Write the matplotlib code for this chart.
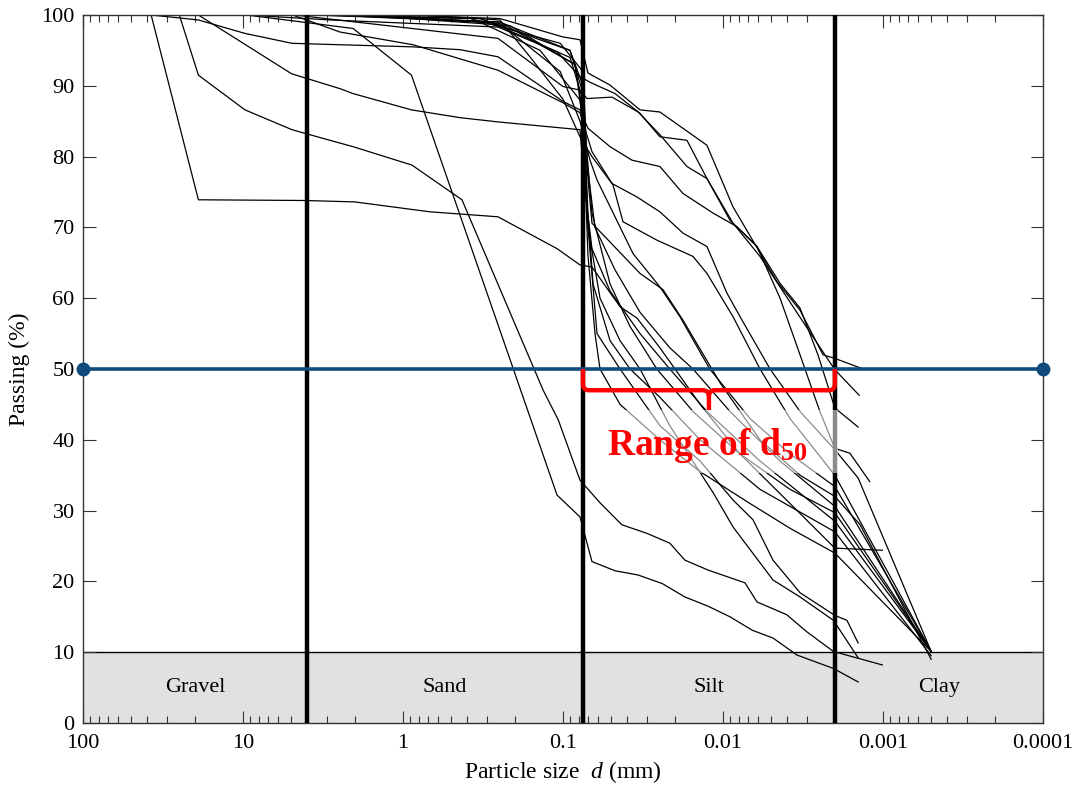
import numpy as np
import matplotlib
matplotlib.use("Agg")
import matplotlib.pyplot as plt
from matplotlib.path import Path
from matplotlib.patches import PathPatch
from matplotlib.ticker import LogLocator, NullFormatter

plt.rcParams["font.family"] = ["Liberation Serif", "DejaVu Serif"]
plt.rcParams["mathtext.fontset"] = "custom"
plt.rcParams["mathtext.rm"] = "Liberation Serif"
plt.rcParams["mathtext.it"] = "Liberation Serif:italic"
plt.rcParams["mathtext.bf"] = "Liberation Serif:bold"

# ---------------- grading curves: particle size (mm) and percent passing ----------------
d01 = [1.04, 0.248, 0.1, 0.0783, 0.0698, 0.0508, 0.0330, 0.0248, 0.0126, 0.00866, 0.00459, 0.00330, 0.00237, 0.0020, 0.00133]
p01 = [100, 99.5, 96.9, 96.5, 91.8, 90.1, 86.6, 86.3, 81.6, 72.9, 62.3, 58.3, 52.0, 51.5, 50.0]

d02 = [9.5, 2.86, 0.255, 0.109, 0.0783, 0.0678, 0.0473, 0.0330, 0.0248, 0.0168, 0.0126, 0.00866, 0.00587, 0.00365, 0.00237, 0.0020, 0.00141]
p02 = [100, 99.3, 98.3, 94.8, 91.3, 90.5, 88.9, 86.1, 82.8, 82.3, 76.9, 70.6, 65.9, 58.8, 52.4, 49.9, 46.3]

d03 = [4.75, 0.255, 0.1, 0.0783, 0.0708, 0.0494, 0.0339, 0.0248, 0.0168, 0.0126, 0.00904, 0.00613, 0.00440, 0.00330, 0.00255, 0.0020, 0.00143]
p03 = [100, 96.7, 89.9, 89.4, 88.2, 88.4, 86.3, 83.1, 78.6, 76.9, 71.0, 67.3, 62.1, 58.6, 52.0, 44.5, 41.8]

d04 = [37.5, 19, 9.72, 4.94, 2.48, 0.866, 0.440, 0.255, 0.1, 0.0783, 0.0698, 0.0508, 0.0371, 0.0248, 0.0178, 0.0115, 0.00818, 0.00613, 0.00440, 0.00330, 0.00248, 0.0020, 0.00161, 0.00121]
p04 = [100, 99.3, 97.4, 96.0, 95.8, 95.5, 95.1, 94.1, 87.8, 86.6, 84.0, 81.4, 79.5, 78.6, 74.8, 72.0, 70.1, 67.3, 60.0, 52.0, 44.0, 38.8, 38.1, 34.1]

d05 = [4.9, 2.48, 0.866, 0.255, 0.1, 0.0783, 0.0659, 0.0494, 0.0345, 0.0248, 0.0178, 0.0126, 0.00944, 0.00783, 0.00508, 0.00330, 0.0020, 0.00143, 0.0005]
p05 = [100, 97.6, 95.8, 92.2, 87.6, 86.2, 80.7, 76.2, 74.3, 72.2, 69.2, 67.3, 60.7, 57.4, 50.0, 44.0, 38.6, 34.6, 10.1]

d06 = [0.783, 0.248, 0.161, 0.1, 0.0783, 0.0659, 0.0487, 0.0422, 0.0259, 0.0154, 0.0126, 0.00866, 0.00587, 0.00381, 0.0020, 0.0005]
p06 = [100, 99.3, 94.1, 88.1, 82.8, 80.0, 76.0, 70.8, 68.2, 65.9, 63.5, 57.4, 50.0, 43.0, 35.0, 10.1]

d07 = [1.39, 0.248, 0.104, 0.0783, 0.0678, 0.0613, 0.0365, 0.0248, 0.0186, 0.0121, 0.00678, 0.00381, 0.0020, 0.0005]
p07 = [100, 98.8, 92.0, 85.0, 79.5, 76.7, 66.3, 61.6, 57.4, 50.0, 43.0, 38.0, 33.4, 10.1]

d08 = [1.86, 0.330, 0.139, 0.0783, 0.0718, 0.0659, 0.0330, 0.0237, 0.0178, 0.0104, 0.00587, 0.00330, 0.0020, 0.00139, 0.0005]
p08 = [100, 99.0, 95.0, 88.0, 80.0, 70.6, 63.5, 61.2, 56.9, 48.0, 40.0, 35.0, 32.0, 28.0, 9.0]

d09 = [37.5, 19, 4.10, 2.0, 0.678, 0.255, 0.109, 0.0783, 0.0659, 0.0440, 0.0345, 0.0248, 0.0139, 0.00783, 0.00381, 0.0020, 0.00101]
p09 = [100, 73.9, 73.8, 73.6, 72.2, 71.5, 67.0, 64.7, 64.4, 58.8, 57.2, 53.0, 45.0, 38.0, 31.0, 24.7, 24.4]

d10 = [2.14, 0.248, 0.0841, 0.075, 0.0698, 0.0631, 0.0587, 0.0440, 0.0248, 0.0139, 0.00678, 0.00381, 0.0020, 0.0005]
p10 = [100, 99.0, 93.0, 85.0, 66.0, 55.0, 50.0, 45.0, 40.0, 35.5, 31.0, 27.5, 24.0, 10.1]

d11 = [3.30, 0.286, 0.0904, 0.075, 0.0698, 0.0649, 0.0508, 0.0381, 0.0248, 0.0139, 0.00587, 0.0020, 0.0005]
p11 = [100, 99.0, 94.0, 88.0, 72.0, 62.0, 54.0, 50.0, 46.0, 40.0, 33.0, 27.0, 9.5]

d12 = [4.10, 0.381, 0.104, 0.075, 0.0718, 0.0659, 0.0508, 0.0381, 0.0259, 0.0154, 0.00783, 0.00381, 0.0020, 0.0005]
p12 = [100, 99.5, 96.0, 92.0, 82.0, 72.0, 62.0, 56.0, 50.0, 44.0, 38.0, 33.0, 29.7, 10.1]

d13 = [2.86, 0.248, 0.0904, 0.075, 0.0698, 0.0631, 0.0473, 0.0330, 0.0215, 0.0154, 0.00904, 0.00440, 0.0020, 0.0005]
p13 = [100, 99.0, 95.0, 90.0, 78.0, 70.0, 64.0, 58.0, 53.0, 50.0, 44.0, 37.0, 30.6, 10.1]

d14 = [1.86, 0.215, 0.0841, 0.075, 0.0698, 0.0613, 0.0440, 0.0248, 0.0139, 0.00866, 0.00649, 0.00487, 0.00330, 0.0020, 0.00168, 0.00143]
p14 = [100, 98.5, 93.0, 86.0, 70.0, 55.0, 50.0, 42.0, 37.0, 31.5, 28.7, 23.0, 18.4, 15.2, 14.5, 11.3]

d15 = [2.48, 0.330, 0.0904, 0.075, 0.0698, 0.0587, 0.0440, 0.0330, 0.0215, 0.0115, 0.00866, 0.00487, 0.00330, 0.00204, 0.00143]
p15 = [100, 99.5, 95.0, 89.0, 70.0, 60.0, 54.0, 50.0, 42.0, 32.5, 27.7, 20.2, 17.8, 14.5, 9.2]

d16 = [25, 19, 9.72, 4.94, 2.86, 2.05, 0.879, 0.428, 0.133, 0.107, 0.0783, 0.0587, 0.0429, 0.0300, 0.0215, 0.0173, 0.0124, 0.00729, 0.00613, 0.00400, 0.00300, 0.00204, 0.00101]
p16 = [100, 91.5, 86.6, 83.8, 82.3, 81.4, 78.8, 73.9, 47.0, 42.8, 34.3, 31.1, 28.0, 26.8, 25.4, 23.0, 21.6, 19.8, 17.1, 15.3, 12.9, 10.1, 8.2]

d17 = [9.5, 2.05, 0.885, 0.109, 0.0783, 0.0659, 0.0473, 0.0339, 0.0240, 0.0173, 0.0124, 0.00904, 0.00656, 0.00487, 0.00345, 0.00204, 0.00143]
p17 = [100, 98.1, 91.5, 32.2, 29.1, 22.8, 21.5, 20.9, 19.7, 17.8, 16.5, 15.0, 13.1, 12.0, 9.6, 7.7, 5.8]

d18 = [19, 4.97, 2.48, 2.05, 0.885, 0.440, 0.255, 0.0783, 0.0718, 0.0659, 0.0508, 0.0330, 0.0215, 0.0126, 0.00587, 0.0020, 0.0005]
p18 = [100, 91.7, 89.6, 88.9, 86.6, 85.5, 84.9, 83.8, 74.0, 67.0, 61.0, 55.0, 50.0, 44.0, 37.0, 28.5, 10.1]

sizes = [d01, d02, d03, d04, d05, d06, d07, d08, d09, d10, d11, d12, d13, d14, d15, d16, d17, d18]
passing = [p01, p02, p03, p04, p05, p06, p07, p08, p09, p10, p11, p12, p13, p14, p15, p16, p17, p18]

# soil fraction limits (mm) and names
boundaries = [4.0, 0.075, 0.002]
zone_names = ["Gravel", "Sand", "Silt", "Clay"]
x_min, x_max = 100, 0.0001
x_ticks = [100, 10, 1, 0.1, 0.01, 0.001, 0.0001]
x_ticklabels = ["100", "10", "1", "0.1", "0.01", "0.001", "0.0001"]
y_ticks = list(range(0, 101, 10))
d50_level = 50
band_top = 10

# ---------------- figure ----------------
fig = plt.figure(figsize=(10.76, 7.91), dpi=100)
ax = fig.add_axes([83 / 1076, 1 - 723 / 791, 960 / 1076, 708 / 791])
ax.set_xscale("log")
ax.set_xlim(x_min, x_max)
ax.set_ylim(0, 100)

# shaded strip for the fraction names
ax.axhspan(0, band_top, color="#e1e1e1", zorder=0, lw=0)
ax.axhline(band_top, color="black", lw=1.0, zorder=1)

for d, p in zip(sizes, passing):
    ax.plot(d, p, color="black", lw=0.9, zorder=2)

for b in boundaries:
    ax.axvline(b, color="black", lw=3.2, zorder=3)

# horizontal line at 50 % passing
ax.plot([x_min, x_max], [d50_level, d50_level], color="#0f4c7d", lw=2.6,
        marker="o", ms=9, zorder=4, clip_on=False)

# zone names inside the shaded strip
limits = [x_min] + boundaries + [x_max]
for name, a, b in zip(zone_names, limits[:-1], limits[1:]):
    ax.text(np.sqrt(a * b), band_top / 2, name, ha="center", va="center",
            fontsize=16, zorder=6)

# curly bracket spanning the silt fraction
xl, xr = boundaries[1], boundaries[2]
xc = np.sqrt(xl * xr)
k = 10 ** (6 / 160)
y_top, y_bar, y_tip = 50.0, 47.0, 44.2
r = 0.85
M, L, C = Path.MOVETO, Path.LINETO, Path.CURVE3
verts = [(xl, y_top), (xl, y_bar + r), (xl, y_bar), (xl / k, y_bar), (xc * k, y_bar),
         (xc, y_bar), (xc, y_bar - r), (xc, y_tip),
         (xr, y_top), (xr, y_bar + r), (xr, y_bar), (xr * k, y_bar), (xc / k, y_bar),
         (xc, y_bar), (xc, y_bar - r)]
codes = [M, L, C, C, L, C, C, L,
         M, L, C, C, L, C, C]
ax.add_patch(PathPatch(Path(verts, codes), facecolor="none", edgecolor="#ff0000",
                       lw=3.2, capstyle="butt", joinstyle="round", zorder=5))

# faint white backing behind the annotation
vx0, vx1, vy0, vy1 = 0.058, 0.0019, 35.3, 44.2
ax.fill([vx0, vx1, vx1, vx0], [vy0, vy0, vy1, vy1], color="white", alpha=0.55,
        lw=0, zorder=5.5)
ax.text(0.053, 37.9, r"Range of d$_{\mathbf{50}}$", color="#ff0000", fontsize=27,
        fontweight="bold", ha="left", va="baseline", zorder=7)

# axes, ticks, labels
ax.set_xticks(x_ticks)
ax.set_xticklabels(x_ticklabels)
ax.xaxis.set_minor_locator(LogLocator(base=10, subs=np.arange(2, 10), numticks=20))
ax.xaxis.set_minor_formatter(NullFormatter())
ax.set_yticks(y_ticks)
ax.tick_params(which="both", direction="in", top=True, right=True, labelsize=16,
               width=0.8, color="#333333")
ax.tick_params(which="major", length=9, pad=8)
ax.tick_params(which="minor", length=5)
ax.tick_params(axis="y", pad=6)
for s in ax.spines.values():
    s.set_linewidth(1.0)
    s.set_color("#333333")

ax.set_xlabel(r"Particle size  $d$ (mm)", fontsize=17, labelpad=4)
ax.set_ylabel("Passing (%)", fontsize=17, labelpad=8)

fig.savefig("out.png", dpi=100)
